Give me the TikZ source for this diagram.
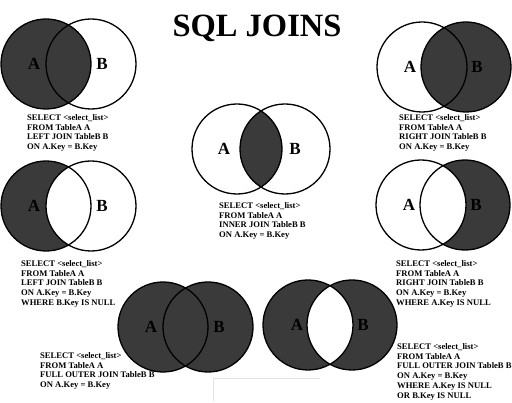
\documentclass[tikz,border=0pt]{standalone}
\usepackage{fontspec}
\setmainfont{Liberation Serif}
\definecolor{vdark}{HTML}{3A3A3A}
\definecolor{ghost}{HTML}{E4E4E4}
\begin{document}
\begin{tikzpicture}[x=1pt,y=-1pt,
  ring/.style={draw=black,line width=1.3pt},
  lbl/.style={font=\fontsize{17}{17}\selectfont\bfseries, inner sep=0},
  code/.style={anchor=north west, align=left, inner sep=0,
    font=\fontsize{8.6}{9.9}\selectfont\bfseries},
  title/.style={anchor=base, inner sep=0, font=\fontsize{32.5}{32.5}\selectfont\bfseries}]
\useasboundingbox[fill=white] (0,0) rectangle (512,403);
\def\R{45}

% title
\node[title] (title) at (257,37) {SQL JOINS};

% centres
\coordinate (tlA) at (46,64);   \coordinate (tlB) at (91,64);
\coordinate (trA) at (422,67);  \coordinate (trB) at (466,67);
\coordinate (cA)  at (237,149); \coordinate (cB)  at (285,149);
\coordinate (mlA) at (46,206);  \coordinate (mlB) at (91,206);
\coordinate (mrA) at (421,205); \coordinate (mrB) at (465,205);
\coordinate (blA) at (163,327); \coordinate (blB) at (208,327);
\coordinate (brA) at (308,325); \coordinate (brB) at (352,325);

% top-left: LEFT JOIN
\fill[vdark] (tlA) circle (\R);
\draw[ring] (tlA) circle (\R) (tlB) circle (\R);
% top-right: RIGHT JOIN
\fill[vdark] (trB) circle (\R);
\draw[ring] (trA) circle (\R) (trB) circle (\R);
% centre: INNER JOIN
\begin{scope}
  \clip (cA) circle (\R);
  \fill[vdark] (cB) circle (\R);
\end{scope}
\draw[ring] (cA) circle (\R) (cB) circle (\R);
% middle-left: A only
\fill[vdark] (mlA) circle (\R);
\fill[white] (mlB) circle (\R);
\draw[ring] (mlA) circle (\R) (mlB) circle (\R);
% middle-right: B only
\fill[vdark] (mrB) circle (\R);
\fill[white] (mrA) circle (\R);
\draw[ring] (mrA) circle (\R) (mrB) circle (\R);
% bottom-left: FULL OUTER
\fill[vdark] (blA) circle (\R) (blB) circle (\R);
\draw[ring] (blA) circle (\R) (blB) circle (\R);
% bottom-right: symmetric difference
\fill[vdark] (brA) circle (\R) (brB) circle (\R);
\begin{scope}
  \clip (brA) circle (\R);
  \fill[white] (brB) circle (\R);
\end{scope}
\draw[ring] (brA) circle (\R) (brB) circle (\R);

% labels
\foreach \v/\ax/\bx/\y in {tl/34/102/64, tr/410/477/67, c/224/295/149,
    ml/34/102/206, mr/409/476/205, bl/151/219/327, br/297/363/325}{
  \node[lbl] (\v LA) at (\ax,\y) {A};
  \node[lbl] (\v LB) at (\bx,\y) {B};
}

% code blocks
\node[code] (tlT) at (27,114) {SELECT <select\_list>\\FROM TableA A\\LEFT JOIN TableB B\\ON A.Key = B.Key};
\node[code] (trT) at (399,114) {SELECT <select\_list>\\FROM TableA A\\RIGHT JOIN TableB B\\ON A.Key = B.Key};
\node[code] (cT) at (219,202) {SELECT <select\_list>\\FROM TableA A\\INNER JOIN TableB B\\ON A.Key = B.Key};
\node[code] (mlT) at (21,260) {SELECT <select\_list>\\FROM TableA A\\LEFT JOIN TableB B\\ON A.Key = B.Key\\WHERE B.Key IS NULL};
\node[code] (mrT) at (396,260) {SELECT <select\_list>\\FROM TableA A\\RIGHT JOIN TableB B\\ON A.Key = B.Key\\WHERE A.Key IS NULL};
\node[code] (blT) at (40,352) {SELECT <select\_list>\\FROM TableA A\\FULL OUTER JOIN TableB B\\ON A.Key = B.Key};
\node[code] (brT) at (397,343) {SELECT <select\_list>\\FROM TableA A\\FULL OUTER JOIN TableB B\\ON A.Key = B.Key\\WHERE A.Key IS NULL\\OR B.Key IS NULL};

% faint scan artefact
\coordinate (g1) at (213,401); \coordinate (g2) at (213,378); \coordinate (g3) at (320,378);
\draw[ghost, line width=0.8pt] (g1) -- (g2) -- (g3);
\end{tikzpicture}
\end{document}
